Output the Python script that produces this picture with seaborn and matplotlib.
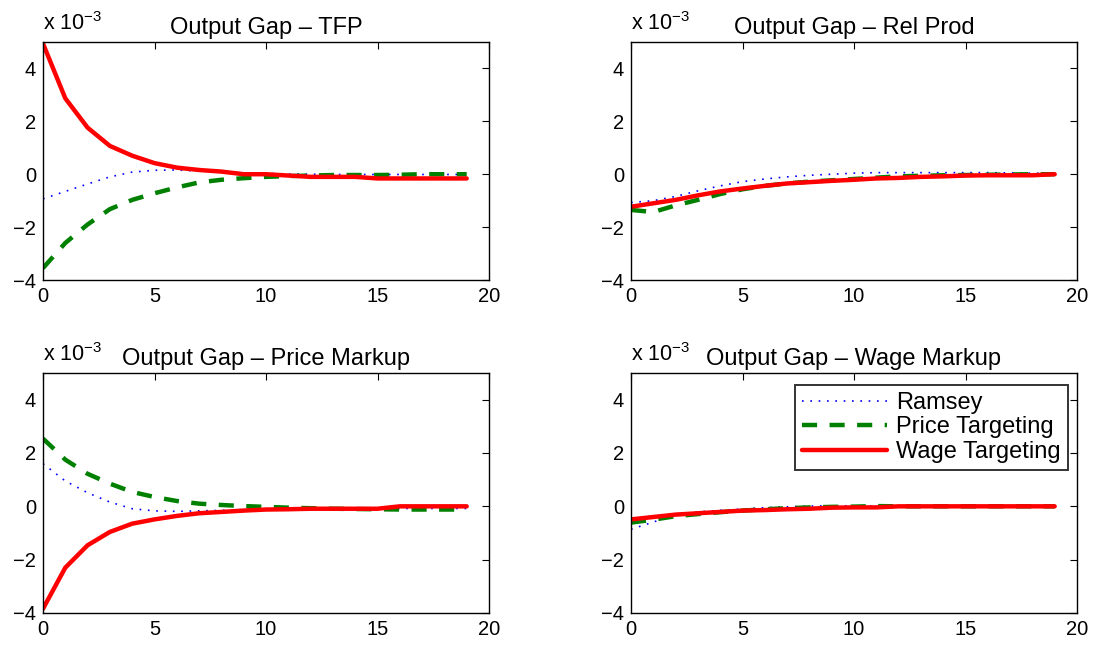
import numpy as np
import pandas as pd
import matplotlib
matplotlib.use("Agg")
import matplotlib.pyplot as plt
import seaborn as sns

sns.set_style("white")
plt.rcParams["font.family"] = ["Liberation Sans", "DejaVu Sans"]
plt.rcParams["mathtext.fontset"] = "custom"
plt.rcParams["mathtext.rm"] = "Liberation Sans"
plt.rcParams["mathtext.it"] = "Liberation Sans"
plt.rcParams["text.color"] = "black"
plt.rcParams["xtick.color"] = "black"
plt.rcParams["ytick.color"] = "black"
plt.rcParams["axes.labelcolor"] = "black"

# Impulse responses of the output gap (units of 1e-3), horizon 0..19
horizon = list(range(20))
policies = ["Ramsey", "Price Targeting", "Wage Targeting"]
titles = ["Output Gap \u2013 TFP", "Output Gap \u2013 Rel Prod",
          "Output Gap \u2013 Price Markup", "Output Gap \u2013 Wage Markup"]

tfp_ramsey = [-0.93, -0.65, -0.37, -0.10, 0.08, 0.15, 0.16, 0.12, 0.08, 0.05,
              0.03, 0.01, 0.0, -0.01, -0.01, -0.01, -0.01, -0.01, -0.01, -0.01]
tfp_price = [-3.55, -2.60, -1.90, -1.32, -0.97, -0.72, -0.50, -0.31, -0.21, -0.15,
             -0.10, -0.07, -0.05, -0.03, -0.03, -0.03, -0.02, 0.0, 0.0, 0.0]
tfp_wage = [4.94, 2.87, 1.76, 1.07, 0.70, 0.42, 0.25, 0.16, 0.10, 0.0,
            0.0, -0.05, -0.10, -0.10, -0.10, -0.16, -0.16, -0.16, -0.16, -0.16]

rel_ramsey = [-1.07, -1.00, -0.84, -0.63, -0.44, -0.28, -0.18, -0.10, -0.04, 0.0,
              0.04, 0.06, 0.06, 0.06, 0.06, 0.06, 0.06, 0.05, 0.04, 0.03]
rel_price = [-1.35, -1.43, -1.18, -0.97, -0.75, -0.57, -0.44, -0.35, -0.28, -0.23,
             -0.18, -0.13, -0.08, -0.06, -0.04, -0.03, -0.02, -0.01, 0.0, 0.0]
rel_wage = [-1.23, -1.10, -0.97, -0.80, -0.65, -0.54, -0.44, -0.35, -0.30, -0.25,
            -0.21, -0.16, -0.14, -0.10, -0.08, -0.05, -0.04, -0.04, -0.04, 0.0]

pm_ramsey = [1.60, 0.95, 0.51, 0.16, -0.09, -0.17, -0.19, -0.17, -0.15, -0.12,
             -0.10, -0.10, -0.09, -0.09, -0.09, -0.09, -0.08, -0.08, -0.08, -0.08]
pm_price = [2.54, 1.75, 1.22, 0.85, 0.54, 0.35, 0.20, 0.10, 0.05, 0.01,
            -0.02, -0.05, -0.07, -0.09, -0.10, -0.11, -0.12, -0.12, -0.12, -0.12]
pm_wage = [-3.84, -2.30, -1.46, -0.96, -0.65, -0.49, -0.36, -0.26, -0.21, -0.16,
           -0.12, -0.11, -0.09, -0.09, -0.09, -0.09, 0.0, 0.0, 0.0, 0.0]

wm_ramsey = [-0.86, -0.59, -0.30, -0.21, -0.15, -0.10, -0.05, -0.02, 0.01, 0.02,
             0.02, 0.01, 0.0, 0.0, 0.0, 0.0, 0.0, 0.0, 0.0, 0.0]
wm_price = [-0.61, -0.50, -0.37, -0.29, -0.22, -0.16, -0.11, -0.07, -0.04, -0.02,
            -0.01, 0.01, 0.0, 0.0, 0.0, 0.0, 0.0, 0.0, 0.0, 0.0]
wm_wage = [-0.49, -0.40, -0.31, -0.26, -0.21, -0.16, -0.14, -0.11, -0.09, -0.05,
           -0.04, -0.04, 0.0, 0.0, 0.0, 0.0, 0.0, 0.0, 0.0, 0.0]

panels = [
    (tfp_ramsey, tfp_price, tfp_wage),
    (rel_ramsey, rel_price, rel_wage),
    (pm_ramsey, pm_price, pm_wage),
    (wm_ramsey, wm_price, wm_wage),
]

styles = {
    "Ramsey": dict(color=(0, 0, 1), linestyle=(0, (1, 4)), linewidth=1.2),
    "Price Targeting": dict(color=(0, 0.5, 0), linestyle=(0, (3.4, 2.8)), linewidth=3.2),
    "Wage Targeting": dict(color=(1, 0, 0), linestyle="-", linewidth=3.2),
}

W, H = 1094, 645
fig = plt.figure(figsize=(W / 100, H / 100), dpi=100)

# axes boxes in pixels: (left, top, right, bottom)
boxes = [(43, 42, 489, 280), (631, 42, 1077, 280),
         (43, 373, 489, 613), (631, 373, 1077, 613)]

tick_fs = 14.5
title_fs = 17
legend_fs = 17
scale_fs = 15.5

for i, (box, series, title) in enumerate(zip(boxes, panels, titles)):
    l, t, r, b = box
    ax = fig.add_axes([l / W, 1 - b / H, (r - l) / W, (b - t) / H])
    for name, vals in zip(policies, series):
        df = pd.DataFrame({"horizon": horizon, "value": vals})
        sns.lineplot(data=df, x="horizon", y="value", ax=ax, label=name,
                     legend=False, **styles[name])
    ax.set_xlim(0, 20)
    ax.set_ylim(-4, 5)
    ax.set_xticks([0, 5, 10, 15, 20])
    ax.set_yticks([-4, -2, 0, 2, 4])
    ax.set_xlabel("")
    ax.set_ylabel("")
    ax.tick_params(direction="in", length=5, width=0.8, top=True, right=True,
                   labelsize=tick_fs, color="black")
    ax.tick_params(axis="x", pad=5)
    ax.tick_params(axis="y", pad=5)
    for sp in ax.spines.values():
        sp.set_visible(True)
        sp.set_color("black")
        sp.set_linewidth(1.0)
    ax.set_title(title, fontsize=title_fs, pad=6)
    ax.text(0.0, 1.03, r"x 10$^{\mathrm{-3}}$", transform=ax.transAxes,
            fontsize=scale_fs, ha="left", va="bottom")
    if i == 3:
        leg = ax.legend(loc="upper right", fontsize=legend_fs, frameon=True,
                        fancybox=False, edgecolor="black", handlelength=3.6,
                        handletextpad=0.4, borderpad=0.3, labelspacing=0.1,
                        borderaxespad=0.0, bbox_to_anchor=(0.98, 0.95))
        leg.get_frame().set_linewidth(1.4)

fig.savefig("out.png", dpi=100)
